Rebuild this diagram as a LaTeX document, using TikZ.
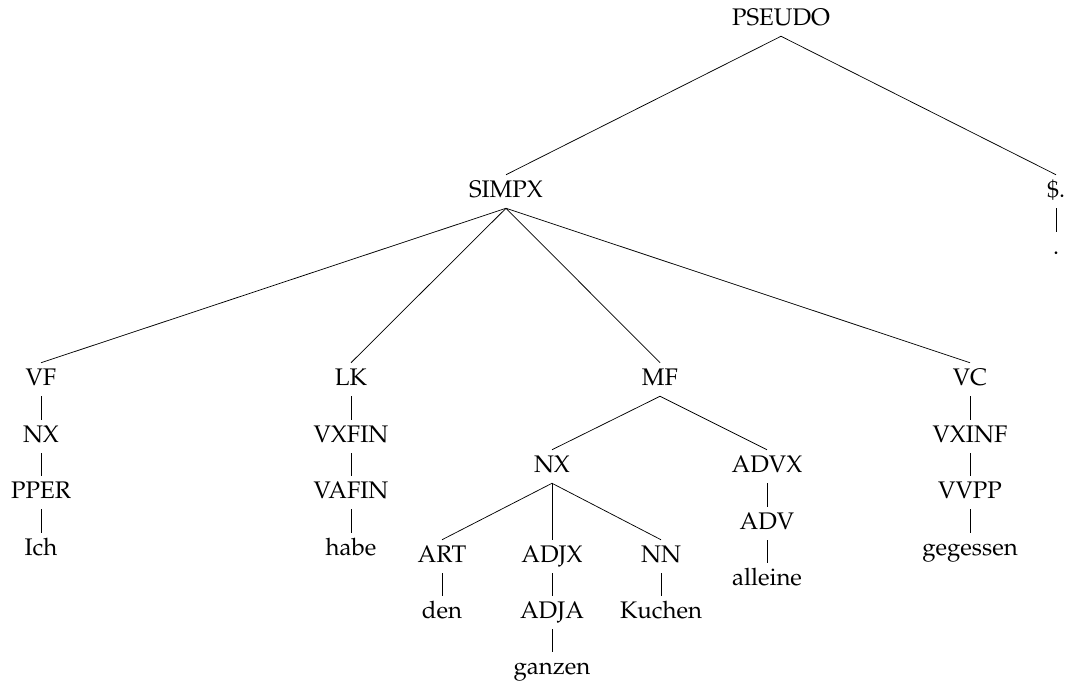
\documentclass[tikz,border=0pt]{standalone}
\usepackage[T1]{fontenc}
\usepackage{palatino}
\begin{document}
\begin{tikzpicture}[x=0.75pt,y=-0.75pt,
  tn/.style={anchor=base,inner sep=0pt,text height=16.5pt,text depth=8.25pt,
             font=\fontsize{18}{22}\selectfont},
  br/.style={draw=black,line width=0.55pt}]
\useasboundingbox (0,0) rectangle (1069,682);
% nodes: (column, baseline)
\node[tn] (pseudo) at (781,25) {PSEUDO};
\node[tn] (simpx) at (506,197) {SIMPX};
\node[tn] (punct) at (1056,197) {\$.};
\node[tn] (dot) at (1056,254) {.};
\node[tn] (vf) at (41,385) {VF};
\node[tn] (nxa) at (41,442) {NX};
\node[tn] (pper) at (41,498) {PPER};
\node[tn] (ich) at (41,555) {Ich};
\node[tn] (lk) at (351,385) {LK};
\node[tn] (vxfin) at (351,442) {VXFIN};
\node[tn] (vafin) at (351,498) {VAFIN};
\node[tn] (habe) at (351,555) {habe};
\node[tn] (mf) at (660,385) {MF};
\node[tn] (nxb) at (552,472) {NX};
\node[tn] (advx) at (767,472) {ADVX};
\node[tn] (art) at (442,562) {ART};
\node[tn] (adjx) at (552,562) {ADJX};
\node[tn] (nn) at (661,562) {NN};
\node[tn] (den) at (442,618) {den};
\node[tn] (adja) at (552,618) {ADJA};
\node[tn] (kuchen) at (661,618) {Kuchen};
\node[tn] (ganzen) at (552,674) {ganzen};
\node[tn] (adv) at (767,529) {ADV};
\node[tn] (alleine) at (767,585) {alleine};
\node[tn] (vc) at (970,385) {VC};
\node[tn] (vxinf) at (970,442) {VXINF};
\node[tn] (vvpp) at (970,498) {VVPP};
\node[tn] (gegessen) at (970,555) {gegessen};
% branches
\foreach \p/\c in {pseudo/simpx,pseudo/punct,punct/dot,
  simpx/vf,simpx/lk,simpx/mf,simpx/vc,
  vf/nxa,nxa/pper,pper/ich,
  lk/vxfin,vxfin/vafin,vafin/habe,
  mf/nxb,mf/advx,nxb/art,nxb/adjx,nxb/nn,
  art/den,adjx/adja,adja/ganzen,nn/kuchen,
  advx/adv,adv/alleine,
  vc/vxinf,vxinf/vvpp,vvpp/gegessen}
  \draw[br] (\p.south) -- (\c.north);
\end{tikzpicture}
\end{document}
